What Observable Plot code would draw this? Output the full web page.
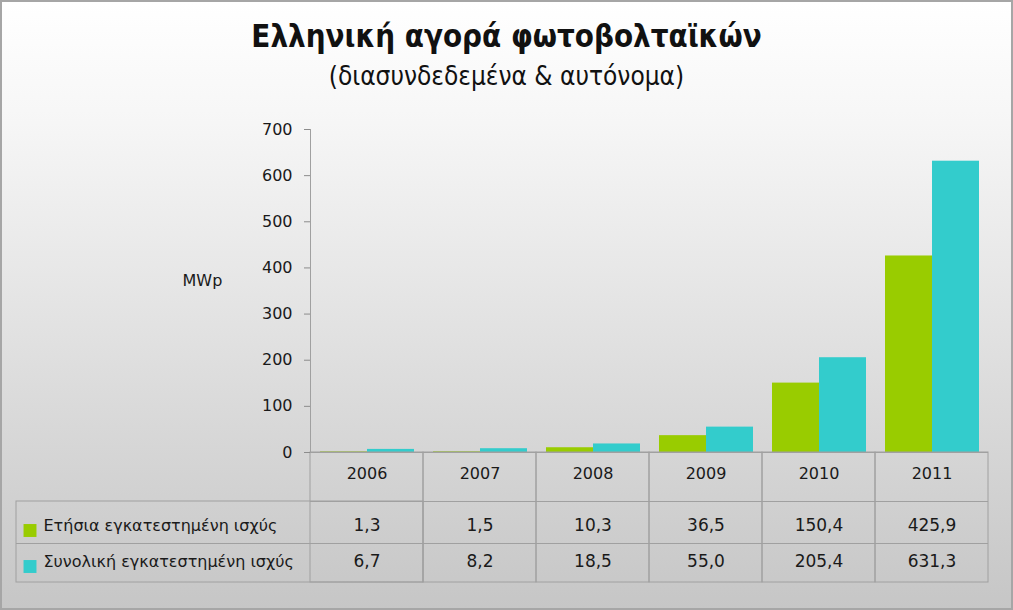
<!DOCTYPE html>
<html><head><meta charset="utf-8">
<script src="https://cdn.jsdelivr.net/npm/d3@7"></script>
<script src="https://cdn.jsdelivr.net/npm/@observablehq/plot@0.6"></script>
<style>
html,body{margin:0;padding:0;background:#fff;}
#page{position:relative;width:1013px;height:610px;box-sizing:border-box;border:2px solid #a6a6a6;background:linear-gradient(#ffffff 0%, #f6f6f6 20%, #c6c6c6 100%);overflow:hidden;font-family:"DejaVu Sans",sans-serif;}
#chart{position:absolute;left:-2px;top:-2px;width:1013px;height:610px;}
#chart svg{background:transparent;max-width:none;}
.t{position:absolute;left:0;right:0;text-align:center;color:#111;line-height:1;white-space:nowrap;}
#title{top:19px;font-weight:bold;font-size:31px;font-stretch:condensed;}
#subtitle{top:61px;font-size:26px;font-stretch:condensed;}
</style></head>
<body>
<div id="page">
  <div id="chart"></div>
  <div id="title" class="t">Ελληνική αγορά φωτοβολταϊκών</div>
  <div id="subtitle" class="t">(διασυνδεδεμένα &amp; αυτόνομα)</div>
</div>
<script>
const years = ["2006","2007","2008","2009","2010","2011"];
const annual = [1.3, 1.5, 10.3, 36.5, 150.4, 425.9];
const total = [6.7, 8.2, 18.5, 55.0, 205.4, 631.3];
const seriesNames = ["Ετήσια εγκατεστημένη ισχύς", "Συνολική εγκατεστημένη ισχύς"];
const seriesColors = ["#99cc00", "#33cccc"];
const yTicks = [0, 100, 200, 300, 400, 500, 600, 700];
const yLabel = "MWp";

const bars = years.flatMap((y, i) => [
  {year: y, series: seriesNames[0], value: annual[i]},
  {year: y, series: seriesNames[1], value: total[i]}
]);
const rows = years.map((y, i) => ({year: y, annual: annual[i], total: total[i]}));
const fmt = v => v.toFixed(1).replace(".", ",");
const first = [{year: years[0]}];
const grid = "#a0a0a0";
const ink = "#1a1a1a";

const chart = Plot.plot({
  width: 1013, height: 610,
  marginLeft: 307, marginRight: 23, marginTop: 129, marginBottom: 158,
  style: {background: "transparent", fontFamily: "'DejaVu Sans', sans-serif", fontSize: "16px", color: ink, maxWidth: "none"},
  fx: {domain: years, padding: 0, tickSize: 0, tickPadding: 15, label: null},
  x: {domain: seriesNames, paddingInner: 0, paddingOuter: 0.2, axis: null},
  y: {domain: [0, 700], axis: null},
  color: {domain: seriesNames, range: seriesColors},
  marks: [
    Plot.barY(bars, {fx: "year", x: "series", y: "value", fill: "series"}),
    Plot.rect(years, {fx: d => d, y1: 0, y2: 0, insetBottom: -130, stroke: grid, fill: "none"}),
    Plot.ruleY([0], {stroke: grid}),
    Plot.ruleY([0], {dy: 49, stroke: grid}),
    Plot.ruleY([0], {dy: 91, stroke: grid}),
    Plot.rect(first, {fx: "year", y1: 0, y2: 0, insetTop: 49, insetBottom: -130, insetLeft: -294, stroke: grid, fill: "none"}),
    Plot.ruleY(first, {fx: "year", y: () => 0, dy: 91, insetLeft: -294, stroke: grid}),
    Plot.frame({anchor: "left", facetAnchor: "left", stroke: grid}),
    Plot.axisY({ticks: yTicks, tickSize: 6, tickPadding: 12, stroke: "#8c8c8c", fill: ink, label: null, fontSize: 16}),
    Plot.text(first, {fx: "year", text: () => yLabel, frameAnchor: "left", textAnchor: "start", dx: -128, dy: -10, fill: ink}),
    Plot.text(rows, {fx: "year", text: d => fmt(d.annual), frameAnchor: "bottom", dy: 78, fontSize: 17, fill: ink}),
    Plot.text(rows, {fx: "year", text: d => fmt(d.total), frameAnchor: "bottom", dy: 114, fontSize: 17, fill: ink}),
    Plot.dot(first, {fx: "year", frameAnchor: "bottom-left", symbol: "square", r: 7.3, fill: () => seriesNames[0], dx: -280.5, dy: 78}),
    Plot.dot(first, {fx: "year", frameAnchor: "bottom-left", symbol: "square", r: 7.3, fill: () => seriesNames[1], dx: -280.5, dy: 114}),
    Plot.text(first, {fx: "year", text: () => seriesNames[0], frameAnchor: "bottom-left", textAnchor: "start", dx: -267, dy: 78, fontSize: 16, fill: ink}),
    Plot.text(first, {fx: "year", text: () => seriesNames[1], frameAnchor: "bottom-left", textAnchor: "start", dx: -267, dy: 114, fontSize: 16, fill: ink})
  ]
});
document.getElementById("chart").appendChild(chart);
</script>
</body></html>
